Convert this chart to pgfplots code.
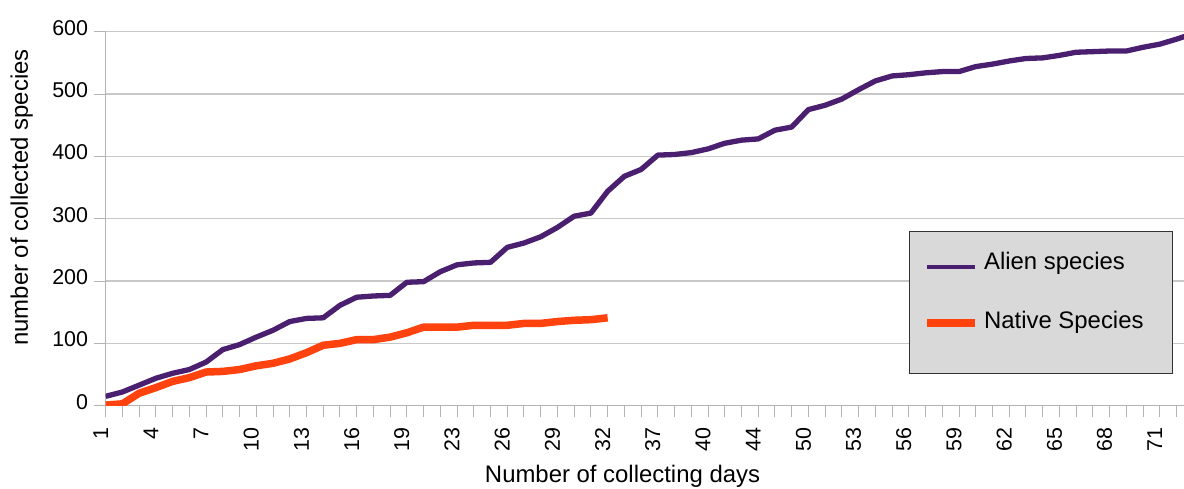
\documentclass[border=0pt]{standalone}
\usepackage{fontspec}
\setmainfont{Liberation Sans}
\usepackage{pgfplots}
\pgfplotsset{compat=1.18}
\definecolor{alien}{HTML}{4B1F6F}
\definecolor{native}{HTML}{FF420E}
\definecolor{gridc}{HTML}{C8C8C8}
\definecolor{axc}{HTML}{B3B3B3}
\definecolor{legfill}{HTML}{D9D9D9}

\pgfplotstableread{
i v
0 15
1 22
2 33
3 44
4 52
5 58
6 70
7 90
8 98
9 110
10 121
11 135
12 140
13 141
14 161
15 174
16 176
17 177
18 198
19 199
20 215
21 226
22 229
23 230
24 254
25 261
26 271
27 286
28 304
29 309
30 344
31 368
32 379
33 402
34 403
35 406
36 412
37 421
38 426
39 428
40 442
41 447
42 475
43 482
44 492
45 507
46 521
47 529
48 531
49 534
50 536
51 536
52 544
53 548
54 553
55 557
56 558
57 562
58 567
59 568
60 569
61 569
62 575
63 580
64 588
65 597
}\alien

\pgfplotstableread{
i v
0 1
1 3
2 20
3 29
4 39
5 45
6 54
7 55
8 58
9 64
10 68
11 75
12 85
13 97
14 100
15 106
16 106
17 110
18 117
19 126
20 126
21 126
22 129
23 129
24 129
25 132
26 132
27 135
28 137
29 138
30 141
}\native

\begin{document}
\begin{tikzpicture}[x=1bp,y=1bp]
\begin{axis}[
  at={(105.7bp,83.3bp)}, anchor=south west,
  scale only axis, width=1078.3bp, height=374bp,
  xmin=0, xmax=64.45, ymin=0, ymax=600,
  axis x line*=bottom, axis y line*=left,
  axis line style={-, draw=axc, line width=1.2bp},
  ymajorgrids, grid style={draw=gridc, line width=1.2bp},
  xtick={0,3,...,63},
  xticklabels={1,4,7,10,13,16,19,23,26,29,32,37,40,44,50,53,56,59,62,65,68,71},
  minor xtick={0,...,64},
  ytick={0,100,...,600},
  tick align=outside,
  major tick length=11.5bp, minor tick length=11.5bp,
  every tick/.style={draw=axc, line width=1bp},
  /pgf/number format/assume math mode=true,
  xticklabel style={font=\fontsize{21.5}{21.5}\selectfont, xshift=-5bp, yshift=-10bp, rotate=90, anchor=east, inner sep=0pt},
  yticklabel style={font=\fontsize{21.5}{21.5}\selectfont, inner sep=0pt, xshift=-6bp, yshift=4bp},
  xlabel={Number of collecting days},
  ylabel={number of collected species},
  label style={font=\fontsize{24}{24}\selectfont},
  xlabel style={at={(axis description cs:0.4793,-0.2067)}, anchor=base},
  ylabel style={at={(axis description cs:-0.0721,0.5567)}, anchor=base},
  legend style={at={(axis description cs:0.7617,0.411)}, anchor=north west,
    draw=none, fill=none, inner sep=0pt, outer sep=0pt,
    font=\fontsize{24}{24}\selectfont, row sep=35.3bp, column sep=9bp,
    nodes={inner sep=0pt, text height=18bp, text depth=5bp}},
  legend cell align=left,
]
\addplot[draw=alien, line width=5.3bp, line join=round,
  legend image code/.code={\path[fill=alien, draw=none, line width=0pt] (0bp,-5.5bp) rectangle (48bp,-1.8bp);}]
  table[x=i,y=v]{\alien};
\addlegendentry{Alien species}
\addplot[draw=native, line width=7.5bp, line join=round,
  legend image code/.code={\path[fill=native, draw=none, line width=0pt] (0bp,-5.5bp) rectangle (48bp,2.8bp);}]
  table[x=i,y=v]{\native};
\addlegendentry{Native Species}
\draw[fill=legfill, draw=black!80, line width=1bp] (axis cs:48.03,51.3) rectangle (axis cs:63.78,279.2);
\end{axis}
\pgfresetboundingbox
\path (0,0) rectangle (1184,489);
\end{tikzpicture}
\end{document}
